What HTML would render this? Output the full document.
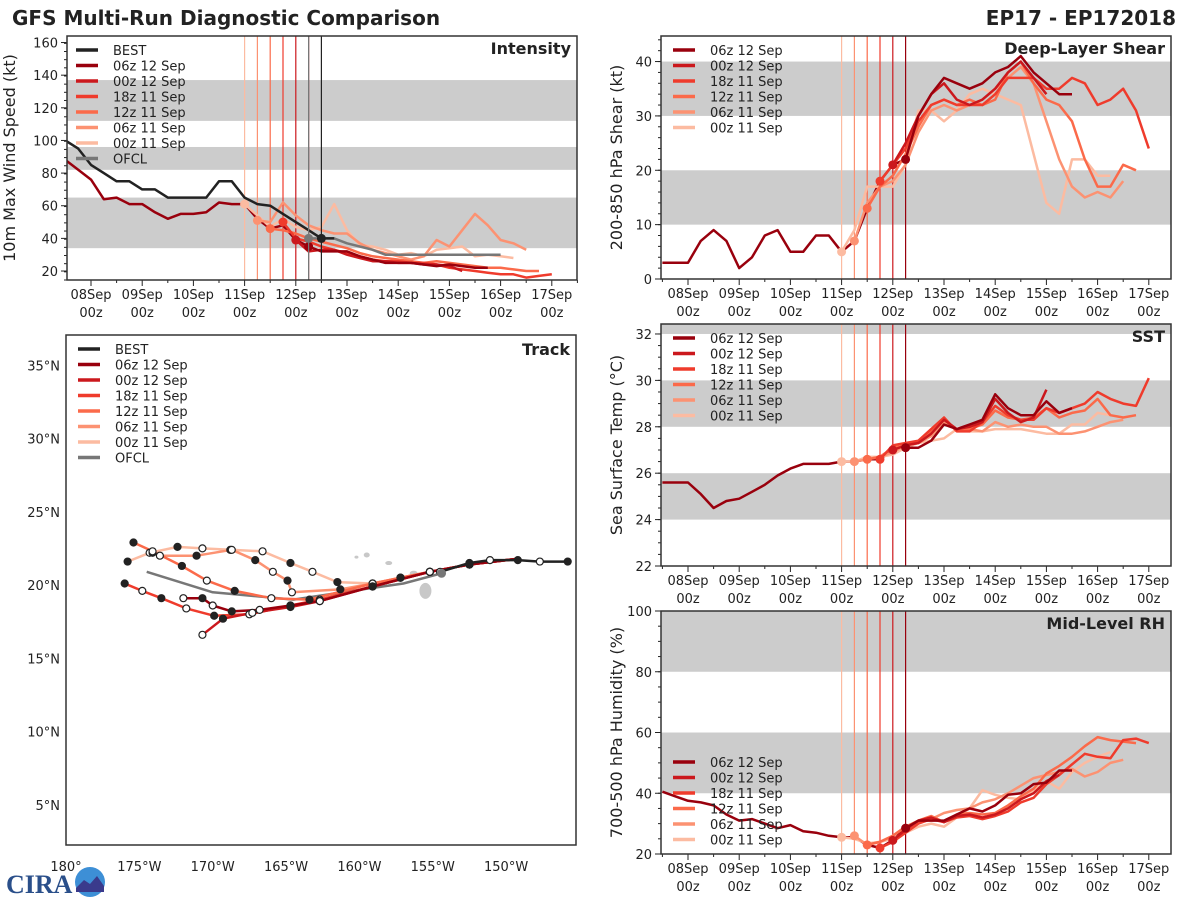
<!DOCTYPE html>
<html><head><meta charset="utf-8"><style>
body{margin:0;background:#fff;}
svg{display:block;font-family:"DejaVu Sans","Liberation Sans",sans-serif;}
</style></head><body>
<svg id="fig" width="1200" height="900" viewBox="0 0 1200 900">
<text x="12" y="25" font-size="20" font-weight="bold" fill="#222">GFS Multi-Run Diagnostic Comparison</text>
<text x="1176" y="25" font-size="20" font-weight="bold" fill="#222" text-anchor="end">EP17 - EP172018</text>
<g>
<text x="6" y="893" font-size="26" font-weight="bold" fill="#2a4f8a" font-family="Liberation Serif,serif">CIRA</text>
<circle cx="90" cy="882" r="15" fill="#3d8fd6"/>
<path d="M76 888 L84 880 L90 884 L97 876 L104 886 L104 892 L76 892Z" fill="#3a3a8c"/>
</g>
</svg>
<script>
const NS='http://www.w3.org/2000/svg';
const svg=document.getElementById('fig');
function mk(tag,attrs,parent){const e=document.createElementNS(NS,tag);for(const k in attrs)e.setAttribute(k,attrs[k]);(parent||svg).appendChild(e);return e;}

// ---- data (time in days since 08 Sep 00z, 6-hourly values) ----
const runNames=['06z 12 Sep','00z 12 Sep','18z 11 Sep','12z 11 Sep','06z 11 Sep','00z 11 Sep'];
const runColors=['#99000d','#cb181d','#ef3b2c','#fb6a4a','#fc9272','#fcbba1'];
const runInit=[4.25,4.0,3.75,3.5,3.25,3.0];
const histStart=-0.5;
// Intensity (kt)
const bestVmax=[100,95,85,80,75,75,70,70,65,65,65,65,75,75,65,61,60,55,50,45,40,40];
const ofclStart=4.25;
const ofclVmax=[40,40,40,37,35,33,30,30,30,30,30,30,30,30,30,30];
const histVmax=[88,82,76,64,65,61,61,56,52,55,55,56,62,61,61,52,46,48,39,35];
const runVmax=[
[35,32,32,32,29,27,25,25,25,24,23,24,23,22,22],
[39,32,33,33,30,28,26,26,25,25,24,24,23,20],
[50,40,38,35,33,31,29,27,26,26,25,25,24,22,21,20,19,18,18,16,17,18],
[46,45,43,40,38,36,34,31,29,28,27,26,25,26,25,24,23,22,22,21,20,20],
[51,50,62,54,48,45,43,43,37,33,31,29,27,29,39,35,45,55,48,39,37,33],
[61,54,47,52,47,45,47,61,45,36,35,33,30,31,29,33,34,35,29,30,29,28]];
// Shear (kt)
const histShear=[3,3,3,7,9,7,2,4,8,9,5,5,8,8,5,7,13,18,21,22];
const runShear=[
[22,30,34,37,36,35,36,38,39,41,38,36,34,34],
[21,25,30,34,36,33,32,33,35,38,40,37,34],
[18,21,24,29,32,33,32,32,32,34,37,37,37,35,35,37,36,32,33,35,31,24],
[13,17,19,23,28,32,33,32,33,32,33,38,40,36,33,32,29,22,17,17,21,20],
[7,14,17,18,21,27,31,32,31,32,33,35,37,39,36,29,22,17,15,16,15,18],
[5,9,17,17,17,21,31,31,29,31,34,35,34,33,32,23,14,12,22,22,19,19]];
// SST (C)
const histSst=[25.6,25.6,25.6,25.1,24.5,24.8,24.9,25.2,25.5,25.9,26.2,26.4,26.4,26.4,26.5,26.5,26.6,26.6,27.0,27.1];
const runSst=[
[27.1,27.1,27.4,28.1,27.9,28.1,28.3,29.4,28.8,28.5,28.5,29.1,28.6,28.8],
[27.0,27.2,27.3,27.7,28.3,27.9,28.0,28.2,29.2,28.6,28.2,28.4,29.6],
[26.6,27.2,27.3,27.4,27.9,28.4,27.8,27.8,28.2,28.9,28.5,28.3,28.3,28.8,28.6,28.8,29.0,29.5,29.2,29.0,28.9,30.1],
[26.6,26.7,27.1,27.2,27.3,27.8,28.3,27.9,27.9,28.1,28.7,28.4,28.3,28.4,28.8,28.4,28.6,28.7,29.2,28.5,28.4,28.5],
[26.5,26.6,26.7,26.9,27.2,27.3,27.6,28.2,27.9,27.9,27.8,28.2,28.0,28.1,28.0,28.0,27.7,27.7,27.8,28.0,28.2,28.3],
[26.5,26.5,26.7,26.7,26.8,27.1,27.3,27.4,27.5,27.9,27.8,27.8,27.9,27.9,27.9,27.8,27.7,27.7,28.1,28.1,28.6,28.5]];
// RH (%)
const histRh=[40.5,39,37.5,37,36,33,31,31.5,30,28.5,29.5,27.5,27,26,25.5,25.5,23,22,24.5,28.5];
const runRh=[
[28.5,31,31,31,33,35,34,36,39.5,40,43,43.5,47.5,47.5],
[24.5,28,31,32,30.5,32.5,33,32,33,35,38,40,44,46],
[22,24,27,30,31.5,30.5,32,32.5,31.5,32.5,34,37,38.5,43,46,49.5,53,52,51.5,57.5,58,56.5],
[23,24,26,29,31,32.5,30.5,33,33.5,33,33.5,36,39,41.5,46.5,49,52,55.5,58.5,57.5,57,56.5],
[26,23,24,26,29,30.5,31.5,33.5,34.5,35,37,38,40,42.5,45,46,47,48,45.5,47,50,51],
[25.5,25,23.5,24,25,27,29,30,29,32,35,41,39.5,38.5,38,41,44,41.5,47,50,52,53.5]];
// Track (lon in deg W, lat in deg N)
const bestLon=[145.8,147.7,149.2,151.1,152.5,154.5];
const bestLat=[21.6,21.6,21.7,21.7,21.5,20.9];
const ofclLon=[154.4,157.0,159.1,164.5,170.0,174.5];
const ofclLat=[20.8,20.1,19.8,19.0,19.5,20.9];
const trackLon=[
[149.1,152.5,155.2,159.1,162.7,164.7,166.8,168.7,170.0,170.7,172.0],
[149.1,152.5,155.2,159.1,162.7,164.7,167.3,169.3,170.7],
[149.1,152.5,155.2,159.1,162.7,164.7,167.5,169.9,171.8,173.5,174.8,176.0],
[149.1,152.5,155.2,157.2,159.1,163.4,166.0,168.5,170.4,172.1,174.1,175.4],
[149.1,152.5,155.2,157.2,159.1,161.3,164.6,164.9,165.9,167.1,168.7,171.1,173.6,174.1],
[149.1,152.5,155.2,157.2,159.1,161.5,163.2,164.7,166.6,168.8,170.7,172.4,174.3,175.8]];
const trackLat=[
[21.8,21.4,20.9,19.9,18.9,18.6,18.3,18.2,18.6,19.1,19.1],
[21.8,21.4,20.9,19.9,18.9,18.5,18.1,17.7,16.6],
[21.8,21.4,20.9,19.9,19.0,18.6,18.0,17.9,18.4,19.1,19.6,20.1],
[21.8,21.4,20.9,20.5,20.1,19.0,19.1,19.6,20.3,21.3,22.3,22.9],
[21.8,21.4,20.9,20.5,20.1,19.7,19.5,20.3,20.9,21.7,22.4,22.0,22.0,22.2],
[21.8,21.4,20.9,20.5,20.1,20.2,20.9,21.5,22.3,22.4,22.5,22.6,22.2,21.6]];
const dayLabels=['08Sep','09Sep','10Sep','11Sep','12Sep','13Sep','14Sep','15Sep','16Sep','17Sep'];

// ---- panel helper ----
function panel(o){
  const g=mk('g',{});
  
  
  const X=t=>o.x0+t*51.2, Y=v=>o.bot-(v-o.ymin)/(o.ymax-o.ymin)*(o.bot-o.top);
  const cp='clip-'+o.name;
  const d=mk('defs',{},g);const c=mk('clipPath',{id:cp},d);mk('rect',{x:o.l,y:o.top,width:o.r-o.l,height:o.bot-o.top},c);
  const pg=mk('g',{'clip-path':'url(#'+cp+')'},g);
  o.bands.forEach(b=>{const r=mk('rect',{x:o.l,y:Y(b[1]),width:o.r-o.l,height:Y(b[0])-Y(b[1]),fill:'#cccccc'},pg);
    
    });
  o.yticks.forEach(v=>{mk('line',{x1:o.l-6,x2:o.l,y1:Y(v),y2:Y(v),stroke:'#222','stroke-width':1},g);
    const t=mk('text',{x:o.l-9,y:Y(v)+5,'font-size':13,'text-anchor':'end',fill:'#222'},g);t.textContent=v;
    
    });
  for(let v=o.ymin;v<=o.ymax;v+=o.minor){if(v<o.ymin||Y(v)<o.top)continue;mk('line',{x1:o.l-3,x2:o.l,y1:Y(v),y2:Y(v),stroke:'#222','stroke-width':1},g);}
  for(let t=-0.5;t<=9.5;t+=0.5){const x=X(t);if(x<o.l-0.5||x>o.r+0.5)continue;const maj=Number.isInteger(t);
    mk('line',{x1:x,x2:x,y1:o.bot,y2:o.bot+(maj?6:3),stroke:'#222'},g);}
  if(o.xlabels){dayLabels.forEach((s,i)=>{const t=mk('text',{x:X(i),y:o.bot+19,'font-size':13,'text-anchor':'middle',fill:'#222'},g);t.textContent=s;
    
    
    const t2=mk('text',{x:X(i),y:o.bot+37,'font-size':13,'text-anchor':'middle',fill:'#222'},g);t2.textContent='00z';
    
    });}
  const yt=mk('text',{x:0,y:0,'font-size':16,'text-anchor':'middle',fill:'#222',transform:`translate(${o.ytx},${(o.top+o.bot)/2}) rotate(-90)`},g);yt.textContent=o.ytitle;
  
  
  const tt=mk('text',{x:o.r-6,y:o.top+18,'font-size':16,'font-weight':'bold','text-anchor':'end',fill:'#222'},g);tt.textContent=o.title;
  
  
  runInit.forEach((t,i)=>{const ln=mk('line',{x1:X(t),x2:X(t),y1:o.top,y2:o.bot,stroke:runColors[i],'stroke-width':1.2},pg);
    
    });
  const line=(arr,start,col,w,name)=>{const p=arr.map((v,i)=>X(start+i*0.25).toFixed(1)+','+Y(v).toFixed(1)).join(' ');
    const pl=mk('polyline',{points:p,fill:'none',stroke:col,'stroke-width':w,'stroke-linejoin':'round'},pg);
    
    return pl;};
  const dot=(t,v,col,name)=>{const c=mk('circle',{cx:X(t),cy:Y(v),r:4.5,fill:col},pg);
    
    };
  return {g,pg,X,Y,line,dot};
}
function legend(x,y,items){
  const lg=mk('g',{});
  
  
  items.forEach((it,i)=>{const yy=y+i*15.5;mk('line',{x1:x,x2:x+22,y1:yy,y2:yy,stroke:it[1],'stroke-width':3.5},lg);
    const t=mk('text',{x:x+37,y:yy+5,'font-size':13,fill:'#222'},lg);t.textContent=it[0];
    
    });
}
function seriesPanel(o,hist,runs){
  const P=panel(o);
  P.line(hist,histStart,runColors[0],2.5,'history-line');
  for(let i=runs.length-1;i>=0;i--){P.line(runs[i],runInit[i],runColors[i],2.5,'run-line-'+i);}
  for(let i=runs.length-1;i>=0;i--){P.dot(runInit[i],runs[i][0],runColors[i],'run-init-dot');}
  return P;
}
function frame(o){const r=mk('rect',{x:o.l,y:o.top,width:o.r-o.l,height:o.bot-o.top,fill:'none',stroke:'#333','stroke-width':1.5});
  
  }

// Intensity
const oI={name:'intensity-panel',l:67,r:577,top:36,bot:280,x0:91,ymin:14.5,ymax:164,yticks:[20,40,60,80,100,120,140,160],minor:5,
  bands:[[34,65],[82,96],[112,137]],ytitle:'10m Max Wind Speed (kt)',ytx:15,title:'Intensity',xlabels:true};
const PI=seriesPanel(oI,histVmax,runVmax);
PI.line(ofclVmax,ofclStart,'#777',2.5,'ofcl-line');
PI.line(bestVmax,histStart,'#222',2.5,'best-line');
[[ofclStart,'#777'],[4.5,'#222']].forEach(a=>{const ln=mk('line',{x1:PI.X(a[0]),x2:PI.X(a[0]),y1:oI.top,y2:oI.bot,stroke:a[1],'stroke-width':1.2},PI.pg);
  
  });
PI.dot(ofclStart,ofclVmax[0],'#777','ofcl-dot');
PI.dot(4.5,bestVmax[bestVmax.length-1],'#222','best-dot');
frame(oI);
legend(76,50,[['BEST','#222']].concat(runNames.map((n,i)=>[n,runColors[i]])).concat([['OFCL','#777']]));

// Shear
const oS={name:'shear-panel',l:661,r:1171,top:36,bot:279,x0:688,ymin:0,ymax:44.7,yticks:[0,10,20,30,40],minor:2,
  bands:[[10,20],[30,40]],ytitle:'200-850 hPa Shear (kt)',ytx:622,title:'Deep-Layer Shear',xlabels:true};
seriesPanel(oS,histShear,runShear);frame(oS);
legend(673,50,runNames.map((n,i)=>[n,runColors[i]]));

// SST
const oT={name:'sst-panel',l:661,r:1171,top:324,bot:566,x0:688,ymin:22,ymax:32.43,yticks:[22,24,26,28,30,32],minor:0.5,
  bands:[[24,26],[28,30],[32,34]],ytitle:'Sea Surface Temp (°C)',ytx:622,title:'SST',xlabels:true};
seriesPanel(oT,histSst,runSst);frame(oT);
legend(673,338,runNames.map((n,i)=>[n,runColors[i]]));

// RH
const oR={name:'rh-panel',l:661,r:1171,top:611,bot:854,x0:688,ymin:20,ymax:100,yticks:[20,40,60,80,100],minor:5,
  bands:[[40,60],[80,100]],ytitle:'700-500 hPa Humidity (%)',ytx:622,title:'Mid-Level RH',xlabels:true};
seriesPanel(oR,histRh,runRh);frame(oR);
legend(673,762,runNames.map((n,i)=>[n,runColors[i]]));

// Track map
const oM={l:66,r:576,top:335,bot:845};
const MX=w=>66+(180-w)*14.67, MY=la=>585-(la-20)*14.65;
const tg=mk('g',{});


const tcd=mk('defs',{},tg);const tcp=mk('clipPath',{id:'clip-track'},tcd);mk('rect',{x:oM.l,y:oM.top,width:oM.r-oM.l,height:oM.bot-oM.top},tcp);
const tp=mk('g',{'clip-path':'url(#clip-track)'},tg);
[[155.5,19.6,6,8],[156.3,20.8,4,2.5],[158.0,21.5,3.5,2],[159.5,22.05,3,2.5],[160.2,21.9,2,1.5]].forEach(a=>{
  const e=mk('ellipse',{cx:MX(a[0]),cy:MY(a[1]),rx:a[2],ry:a[3],fill:'#c8c8c8'},tp);
  
  });
[35,30,25,20,15,10,5].forEach(la=>{const t=mk('text',{x:60,y:MY(la)+5,'font-size':13,'text-anchor':'end',fill:'#222'},tg);t.textContent=la+'°N';
  
  });
[180,175,170,165,160,155,150].forEach(w=>{const t=mk('text',{x:MX(w),y:871,'font-size':13,'text-anchor':'middle',fill:'#222'},tg);t.textContent=w===180?'180°':w+'°W';
  
  });
function track(lon,lat,col,name){
  const p=lon.map((w,i)=>MX(w).toFixed(1)+','+MY(lat[i]).toFixed(1)).join(' ');
  const pl=mk('polyline',{points:p,fill:'none',stroke:col,'stroke-width':2.5,'stroke-linejoin':'round'},tp);
  
  
}
function marks(lon,lat,name){lon.forEach((w,i)=>{const c=mk('circle',{cx:MX(w),cy:MY(lat[i]),r:3.5,fill:i%2?'#fff':'#222',stroke:'#222','stroke-width':1.2},tp);
  
  });}
track(ofclLon,ofclLat,'#777','ofcl-track');
for(let i=5;i>=0;i--)track(trackLon[i],trackLat[i],runColors[i],'run-track-'+i);
for(let i=5;i>=0;i--)marks(trackLon[i].slice(1),trackLat[i].slice(1),'track-marker');
track(bestLon,bestLat,'#222','best-track');
marks(bestLon,bestLat,'best-track-marker');
const od=mk('circle',{cx:MX(ofclLon[0]),cy:MY(ofclLat[0]),r:4.5,fill:'#777'},tp);


const ttl=mk('text',{x:oM.r-6,y:oM.top+20,'font-size':16,'font-weight':'bold','text-anchor':'end',fill:'#222'},tg);ttl.textContent='Track';


frame(oM);
legend(78,349,[['BEST','#222']].concat(runNames.map((n,i)=>[n,runColors[i]])).concat([['OFCL','#777']]));
</script>
</body></html>
